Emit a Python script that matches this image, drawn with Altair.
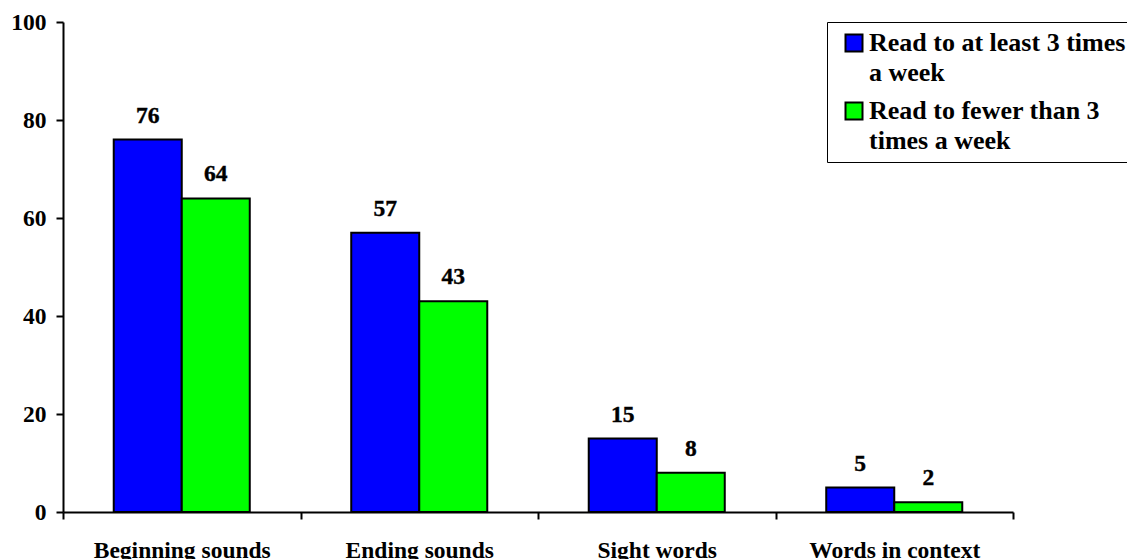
import altair as alt
import pandas as pd

categories = ["Beginning sounds", "Ending sounds", "Sight words", "Words in context"]
series_names = ["Read to at least 3 times a week", "Read to fewer than 3 times a week"]
frequent = [76, 57, 15, 5]
infrequent = [64, 43, 8, 2]
colors = ["#0000FF", "#00FF00"]
y_ticks = [0, 20, 40, 60, 80, 100]

rows = []
for c, a, b in zip(categories, frequent, infrequent):
    rows.append({"category": c, "series": series_names[0], "value": a})
    rows.append({"category": c, "series": series_names[1], "value": b})
df = pd.DataFrame(rows)

FONT = "Liberation Serif"

x = alt.X("category:N", sort=categories, title=None,
          scale=alt.Scale(paddingInner=0, paddingOuter=0),
          axis=alt.Axis(labelAngle=0, tickBand="extent", tickSize=7, labelPadding=19,
                        grid=False,
                        labelFontSize=23.5, labelFont=FONT, labelFontWeight="bold",
                        labelColor="black", domainColor="black", domainWidth=2,
                        tickColor="black", tickWidth=2, labelLimit=400))
xoff = alt.XOffset("series:N", sort=series_names,
                   scale=alt.Scale(paddingInner=0, paddingOuter=0.746))
y = alt.Y("value:Q", title=None,
          scale=alt.Scale(domain=[0, 100], nice=False),
          axis=alt.Axis(values=y_ticks, grid=False, tickSize=7, labelPadding=10,
                        labelFontSize=23.5, labelFont=FONT, labelFontWeight="bold",
                        labelColor="black", domainColor="black", domainWidth=2,
                        tickColor="black", tickWidth=2))

color = alt.Color("series:N", sort=series_names,
                  scale=alt.Scale(domain=series_names, range=colors),
                  legend=alt.Legend(
                      title=None, orient="none", legendX=764, legendY=0,
                      padding=8, symbolOffset=6, strokeColor="black", fillColor="white",
                      symbolType="square", symbolSize=289,
                      symbolStrokeColor="black", symbolStrokeWidth=2, symbolOpacity=1,
                      labelFont=FONT, labelFontSize=26, labelFontWeight="bold",
                      labelColor="black", labelLimit=600, labelOffset=2,
                      labelBaseline="middle",
                      labelExpr="datum.label == 'Read to at least 3 times a week' ? ['Read to at least 3 times', 'a week'] : ['Read to fewer than 3', 'times a week']",
                      rowPadding=12))

bars = alt.Chart(df).mark_bar(stroke="black", strokeWidth=2, opacity=1).encode(
    x=x, xOffset=xoff, y=y, color=color)

labels = alt.Chart(df).mark_text(font=FONT, fontSize=23.5, fontWeight="bold",
                                 baseline="middle", dy=-24, color="black",
                                 stroke="black", strokeWidth=0.4).encode(
    x=alt.X("category:N", sort=categories), xOffset=xoff, y="value:Q", text="value:Q")

chart = alt.layer(bars, labels).properties(
    width=950, height=490,
    autosize=alt.AutoSizeParams(type="none"),
    padding={"left": 55, "top": 14, "right": 114, "bottom": 47},
    view=alt.ViewBackground(stroke=None, strokeWidth=0, fill=None),
).configure_view(stroke=None, strokeWidth=0).configure_legend(strokeWidth=2).configure(
    style={"guide-label": {"lineHeight": 30}})

chart.save("out.html", embed_options={"renderer": "svg", "actions": False})
